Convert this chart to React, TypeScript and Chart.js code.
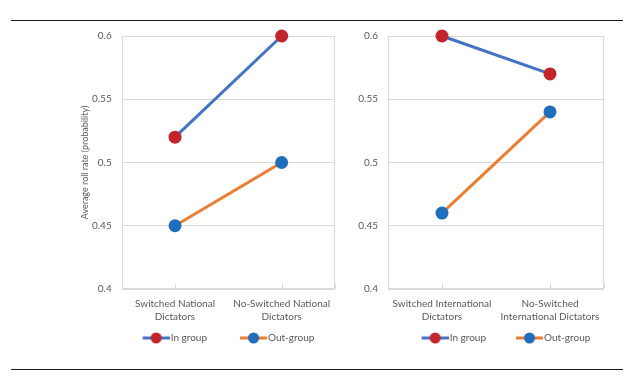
import React, { useEffect, useRef } from "react";
import { Chart, registerables } from "chart.js";

Chart.register(...registerables);

// ---- data ----
const nationalCategories = [["Switched National", "Dictators"], ["No-Switched National", "Dictators"]];
const internationalCategories = [["Switched International", "Dictators"], ["No-Switched", "International Dictators"]];
const seriesNames = ["In group", "Out-group"];
const nationalInGroup = [0.52, 0.6];
const nationalOutGroup = [0.45, 0.5];
const internationalInGroup = [0.6, 0.57];
const internationalOutGroup = [0.46, 0.54];
const yMin = 0.4;
const yMax = 0.6;
const yStep = 0.05;
const yTitle = "Average roll rate (probability)";

// ---- styles ----
const FONT = "Lato, 'Open Sans', sans-serif";
const TEXT = "#595959";
const GRID = "#d9d9d9";
const LINE_COLORS = ["#4472C4", "#ED7D31"];
const MARKER_COLORS = ["#C3232B", "#1F6EBE"];
const CANVAS_TOP = 20;
const CANVAS_H = 339;

function legendImage(line: string, marker: string, boxW: number) {
  // image is centered at x + boxW/2 and spans [x-4, x+boxW+4]
  const W = boxW + 8;
  const c = document.createElement("canvas");
  c.width = W;
  c.height = 14;
  const ctx = c.getContext("2d")!;
  const x1 = W;
  const x0 = W - 27;
  ctx.strokeStyle = line;
  ctx.lineWidth = 3;
  ctx.beginPath();
  ctx.moveTo(x0, 7);
  ctx.lineTo(x1, 7);
  ctx.stroke();
  ctx.fillStyle = marker;
  ctx.beginPath();
  ctx.arc((x0 + x1) / 2, 7, 5.5, 0, Math.PI * 2);
  ctx.fill();
  return c;
}

const framePlugin = {
  id: "frame",
  beforeDatasetsDraw(chart: any) {
    const { ctx, chartArea: a, scales } = chart;
    ctx.save();
    ctx.strokeStyle = GRID;
    ctx.lineWidth = 1;
    const l = Math.round(a.left) + 0.5;
    const r = Math.round(a.right) - 0.5;
    const t = Math.round(a.top) + 0.5;
    const b = Math.round(a.bottom) - 0.5;
    ctx.strokeRect(l, t, r - l, b - t);
    const xs = scales.x;
    const pts = [a.left, ...xs.ticks.map((_: any, i: number) => xs.getPixelForTick(i)), a.right];
    ctx.beginPath();
    pts.forEach((px: number) => {
      const p = Math.round(px) + 0.5;
      ctx.moveTo(p, b);
      ctx.lineTo(p, b - 5);
    });
    ctx.stroke();
    ctx.restore();
  },
};

type PanelProps = {
  categories: string[][];
  inGroup: number[];
  outGroup: number[];
  left: number;
  width: number;
  yWidth: number;
  padRight: number;
  showTitle: boolean;
  legendShift: number;
  boxW: number;
};

function Panel(p: PanelProps) {
  const ref = useRef<HTMLCanvasElement>(null);
  useEffect(() => {
    if (!ref.current) return;
    const images = [
      legendImage(LINE_COLORS[0], MARKER_COLORS[0], p.boxW),
      legendImage(LINE_COLORS[1], MARKER_COLORS[1], p.boxW),
    ];
    const values = [p.inGroup, p.outGroup];
    const chart = new Chart(ref.current, {
      type: "line",
      data: {
        labels: p.categories as any,
        datasets: values.map((v, i) => ({
          label: seriesNames[i],
          data: v,
          borderColor: LINE_COLORS[i],
          backgroundColor: MARKER_COLORS[i],
          borderWidth: 3,
          pointRadius: 6.5,
          pointBackgroundColor: MARKER_COLORS[i],
          pointBorderColor: MARKER_COLORS[i],
          pointBorderWidth: 0,
          clip: false as any,
          tension: 0,
        })),
      },
      options: {
        responsive: false,
        animation: false,
        events: [],
        layout: { padding: { top: 4, right: p.padRight, bottom: 0, left: 0 } },
        scales: {
          x: {
            type: "category",
            offset: true,
            grid: { display: false },
            border: { display: false },
            ticks: {
              color: TEXT,
              font: { family: FONT, size: 10, lineHeight: 1.3 },
              padding: 0,
              maxRotation: 0,
              minRotation: 0,
              autoSkip: false,
            },
            afterFit: (s: any) => {
              s.height = 40;
            },
          },
          y: {
            min: yMin,
            max: yMax,
            ticks: {
              stepSize: yStep,
              color: TEXT,
              font: { family: FONT, size: 10 },
              padding: 10,
              callback: (v: any) => String(Number(Number(v).toFixed(2))),
            },
            grid: { color: GRID, drawTicks: false },
            border: { display: false },
            title: {
              display: p.showTitle,
              text: yTitle,
              color: TEXT,
              font: { family: FONT, size: 9 },
              padding: { top: 9.6, bottom: 0 },
            },
            afterFit: (s: any) => {
              s.width = p.yWidth;
            },
          },
        },
        plugins: {
          tooltip: { enabled: false },
          legend: {
            position: "bottom",
            fullSize: true,
            labels: {
              usePointStyle: true,
              pointStyleWidth: p.boxW,
              padding: 10,
              color: TEXT,
              font: { family: FONT, size: 10 },
              generateLabels: (c: any) => {
                const items = (Chart.defaults.plugins.legend.labels as any).generateLabels(c);
                items.forEach((it: any, i: number) => {
                  it.pointStyle = images[i];
                });
                return items;
              },
            },
          },
        },
      },
      plugins: [
        framePlugin,
        {
          id: "shiftLegend",
          afterLayout(c: any) {
            if (c.legend) {
              c.legend.left += p.legendShift;
              c.legend.right += p.legendShift;
              c.legend.top -= 6;
              c.legend.bottom -= 6;
            }
          },
        },
      ],
    } as any);
    return () => chart.destroy();
  }, []);
  return (
    <canvas
      ref={ref}
      width={p.width}
      height={CANVAS_H}
      style={{ position: "absolute", left: p.left, top: CANVAS_TOP, width: p.width, height: CANVAS_H }}
    />
  );
}

export default function App() {
  return (
    <div style={{ position: "absolute", left: 0, top: 0, width: 634, height: 381, background: "#fff", overflow: "hidden" }}>
      <div style={{ position: "absolute", left: 11, top: 20, width: 612, height: 1, background: "#1a1a1a" }} />
      <div style={{ position: "absolute", left: 11, top: 369, width: 612, height: 1, background: "#1a1a1a" }} />
      <Panel
        categories={nationalCategories}
        inGroup={nationalInGroup}
        outGroup={nationalOutGroup}
        left={70}
        width={280}
        yWidth={51.7}
        padRight={15}
        showTitle={true}
        legendShift={14.5}
        boxW={46}
      />
      <Panel
        categories={internationalCategories}
        inGroup={internationalInGroup}
        outGroup={internationalOutGroup}
        left={350}
        width={284}
        yWidth={38}
        padRight={30}
        showTitle={false}
        legendShift={19}
        boxW={43}
      />
    </div>
  );
}
